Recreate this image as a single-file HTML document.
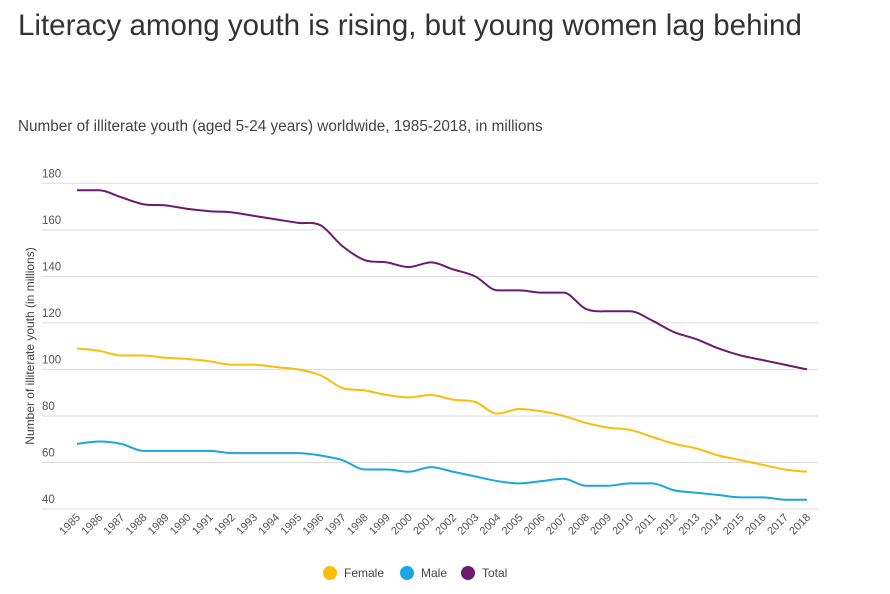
<!DOCTYPE html>
<html><head><meta charset="utf-8"><style>
body{margin:0;background:#fff;font-family:"Liberation Sans",sans-serif;}
h1{position:absolute;left:18px;top:9px;margin:0;font-weight:normal;font-size:29.5px;color:#333;}
.sub{position:absolute;left:18px;top:118px;font-size:15.3px;color:#444;}
</style></head><body>
<h1>Literacy among youth is rising, but young women lag behind</h1>
<div class="sub">Number of illiterate youth (aged 5-24 years) worldwide, 1985-2018, in millions</div>
<svg id="c" width="890" height="594" style="position:absolute;left:0;top:0"></svg>
<script>
const years=[];for(let y=1985;y<=2018;y++)years.push(y);
const yTicks=[40,60,80,100,120,140,160,180];
const female=[109,108,106,106,105,104.5,103.5,102,102,101,100,97.5,92,91,89,88,89,87,86,81,83,82,80,77,75,74,71,68,66,63,61,59,57,56];
const male=[68,69,68,65,65,65,65,64,64,64,64,63,61,57,57,56,58,56,54,52,51,52,53,50,50,51,51,48,47,46,45,45,44,44];
const total=[177,177,174,171,170.5,169,168,167.5,166,164.5,163,162,153,147,146,144,146,143,140,134,134,133,133,126,125,125,121,116,113,109,106,104,102,100];
const seriesNames=["Female","Male","Total"];
const seriesColors=["#fbbd0b","#1ba6e0","#6b1a70"];
const svg=document.getElementById('c');const NS="http://www.w3.org/2000/svg";
const x=i=>77+i*(807-77)/(years.length-1);
const y=v=>509-(v-40)*(509-183.3)/140;
function mk(t,a,p){const e=document.createElementNS(NS,t);for(const k in a)e.setAttribute(k,a[k]);(p||svg).appendChild(e);return e;}
yTicks.forEach(t=>{
 const l=mk('line',{x1:42,x2:818,y1:y(t),y2:y(t),stroke:'#ddd','stroke-width':1});
 
 
 const tx=mk('text',{x:42,y:y(t)-6,'font-size':11.5,fill:'#555'});tx.textContent=t;
 
 
});
const yt=mk('text',{transform:'translate(34,346) rotate(-90)','text-anchor':'middle','font-size':12,fill:'#444'});yt.textContent='Number of illiterate youth (in millions)';


years.forEach((yr,i)=>{
 const tx=mk('text',{transform:`translate(${x(i)+4},${518}) rotate(-45)`,'text-anchor':'end','font-size':11,fill:'#555'});tx.textContent=yr;
 
 
});
function path(d){const p=d.map((v,i)=>[x(i),y(v)]);let s=`M${p[0][0]},${p[0][1]}`;
 const n=p.length,m=[];for(let i=0;i<n;i++){const a=i>0?(p[i][1]-p[i-1][1]):0,b=i<n-1?(p[i+1][1]-p[i][1]):0;
 m.push(i==0?b:i==n-1?a:(a*b<=0?0:(a+b)/2));}
 const h=p[1][0]-p[0][0];for(let i=0;i<n-1;i++){s+=` C${p[i][0]+h/3},${p[i][1]+m[i]/3} ${p[i+1][0]-h/3},${p[i+1][1]-m[i+1]/3} ${p[i+1][0]},${p[i+1][1]}`;}return s;}
[female,male,total].forEach((d,k)=>{
 const pe=mk('path',{d:path(d),fill:'none',stroke:seriesColors[k],'stroke-width':2});
 
 
});
const lx=[330,407,468];
seriesNames.forEach((n,k)=>{
 const g=mk('g',{});
 
 
 mk('circle',{cx:lx[k],cy:573,r:7,fill:seriesColors[k]},g);
 const t=mk('text',{x:lx[k]+14,y:577,'font-size':12,fill:'#444'},g);t.textContent=n;
});
</script>
</body></html>
